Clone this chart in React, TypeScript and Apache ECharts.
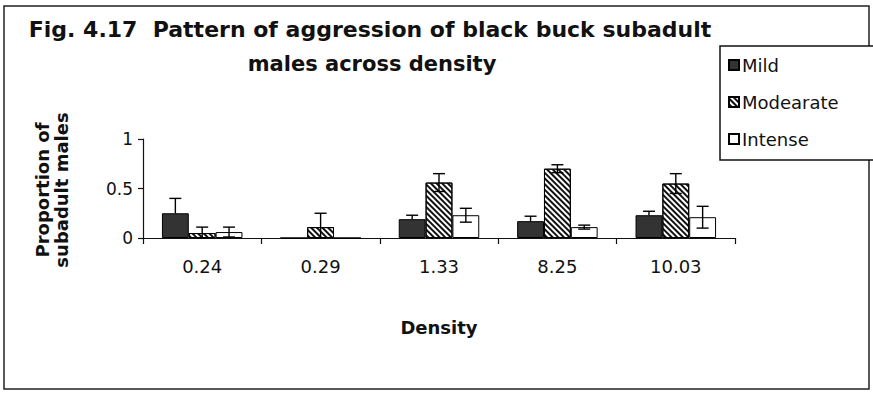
import React, { useEffect, useRef } from 'react';
import * as echarts from 'echarts';

const categories = ['0.24', '0.29', '1.33', '8.25', '10.03'];
const seriesNames = ['Mild', 'Modearate', 'Intense'];
const mildValues = [0.25, 0, 0.19, 0.17, 0.23];
const mildErrors = [0.15, 0, 0.04, 0.05, 0.04];
const moderateValues = [0.05, 0.11, 0.56, 0.7, 0.55];
const moderateErrors = [0.06, 0.14, 0.09, 0.04, 0.1];
const intenseValues = [0.06, 0, 0.23, 0.11, 0.21];
const intenseErrors = [0.05, 0, 0.07, 0.02, 0.11];
const titleLines = ['Fig. 4.17  Pattern of aggression of black buck subadult', 'males across density'];
const yAxisTitle = 'Proportion of\nsubadult males';
const xAxisTitle = 'Density';

const FONT = '"DejaVu Sans", "Liberation Sans", Arial, sans-serif';
const CAT_GAP = 0.32;

export default function App() {
  const ref = useRef<HTMLDivElement>(null);
  useEffect(() => {
    document.body.style.margin = '0';
    if (!ref.current) return;
    const chart = echarts.init(ref.current, undefined, { renderer: 'svg' });
    const allValues = [mildValues, moderateValues, intenseValues];
    const allErrors = [mildErrors, moderateErrors, intenseErrors];
    const errData: number[][] = [];
    allValues.forEach((vals, s) => {
      vals.forEach((v, i) => {
        errData.push([i, v, allErrors[s][i], s]);
      });
    });
    const barBase = { type: 'bar', barGap: '0%', barCategoryGap: CAT_GAP * 100 + '%' };
    const option: any = {
      animation: false,
      backgroundColor: '#fff',
      textStyle: { fontFamily: FONT },
      grid: { left: 143, top: 139, width: 592, height: 99 },
      legend: {
        data: seriesNames,
        orient: 'vertical',
        left: 720,
        top: 46,
        padding: [10, 38, 12, 8],
        itemGap: 19,
        itemWidth: 10,
        itemHeight: 10,
        icon: 'rect',
        borderColor: '#111',
        borderWidth: 1.5,
        backgroundColor: '#fff',
        textStyle: { fontSize: 18, color: '#111', fontFamily: FONT, padding: [0, 0, 0, -2] },
      },
      xAxis: {
        type: 'category',
        data: categories,
        axisLine: { lineStyle: { color: '#111', width: 1.2 } },
        axisTick: { show: true, length: 6, lineStyle: { color: '#111', width: 1.2 } },
        axisLabel: { fontSize: 18, color: '#111', margin: 19, fontFamily: FONT },
      },
      yAxis: {
        type: 'value',
        min: 0,
        max: 1,
        interval: 0.5,
        splitLine: { show: false },
        axisLine: { show: true, lineStyle: { color: '#111', width: 1.2 } },
        axisTick: { show: true, length: 5, lineStyle: { color: '#111', width: 1.2 } },
        axisLabel: { fontSize: 17, color: '#111', margin: 10, fontFamily: FONT },
      },
      series: [
        {
          ...barBase,
          name: seriesNames[0],
          data: mildValues,
          itemStyle: { color: '#333', borderColor: '#000', borderWidth: 1 },
        },
        {
          ...barBase,
          name: seriesNames[1],
          data: moderateValues,
          itemStyle: {
            color: '#fff',
            borderColor: '#000',
            borderWidth: 1,
            decal: {
              symbol: 'rect',
              symbolSize: 1,
              color: '#111',
              dashArrayX: [1, 0],
              dashArrayY: [1.2, 1.5],
              rotation: Math.PI / 4,
            },
          },
        },
        {
          ...barBase,
          name: seriesNames[2],
          data: intenseValues,
          itemStyle: { color: '#fff', borderColor: '#000', borderWidth: 1 },
        },
        {
          type: 'custom',
          name: 'errors',
          data: errData,
          z: 10,
          silent: true,
          encode: { x: 0, y: 1 },
          renderItem: (params: any, api: any) => {
            const cat = api.value(0);
            const val = api.value(1);
            const err = api.value(2);
            const s = api.value(3);
            if (!err) return null;
            const band = api.size([1, 0])[0];
            const barW = (band * (1 - CAT_GAP)) / 3;
            const c = api.coord([cat, val]);
            const x = c[0] + (s - 1) * barW;
            const hi = api.coord([cat, val + err])[1];
            const lo = s === 0 ? c[1] : api.coord([cat, Math.max(val - err, 0)])[1];
            const cap = 6;
            const st = { stroke: '#000', lineWidth: 1.4 };
            const children: any[] = [
              { type: 'line', shape: { x1: x, y1: hi, x2: x, y2: lo }, style: st },
              { type: 'line', shape: { x1: x - cap, y1: hi, x2: x + cap, y2: hi }, style: st },
            ];
            if (s !== 0) {
              children.push({ type: 'line', shape: { x1: x - cap, y1: lo, x2: x + cap, y2: lo }, style: st });
            }
            return { type: 'group', children };
          },
        },
      ],
      graphic: [
        {
          type: 'rect',
          z: -10,
          shape: { x: 4, y: 6, width: 865, height: 383 },
          style: { fill: 'rgba(0,0,0,0)', stroke: '#222', lineWidth: 1.5 },
        },
        {
          type: 'text',
          x: 370,
          y: 29,
          style: { text: titleLines[0], font: 'bold 22px ' + FONT, fill: '#111', textAlign: 'center', textVerticalAlign: 'middle' },
        },
        {
          type: 'text',
          x: 372,
          y: 64,
          style: { text: titleLines[1], font: 'bold 21px ' + FONT, fill: '#111', textAlign: 'center', textVerticalAlign: 'middle' },
        },
        {
          type: 'text',
          x: 52,
          y: 190,
          rotation: Math.PI / 2,
          style: { text: yAxisTitle, font: 'bold 18px ' + FONT, lineHeight: 19, fill: '#111', textAlign: 'center', textVerticalAlign: 'middle' },
        },
        {
          type: 'text',
          x: 439,
          y: 327,
          style: { text: xAxisTitle, font: 'bold 18px ' + FONT, fill: '#111', textAlign: 'center', textVerticalAlign: 'middle' },
        },
      ],
    };
    chart.setOption(option);
    return () => chart.dispose();
  }, []);
  return <div ref={ref} style={{ width: 873, height: 393 }} />;
}
